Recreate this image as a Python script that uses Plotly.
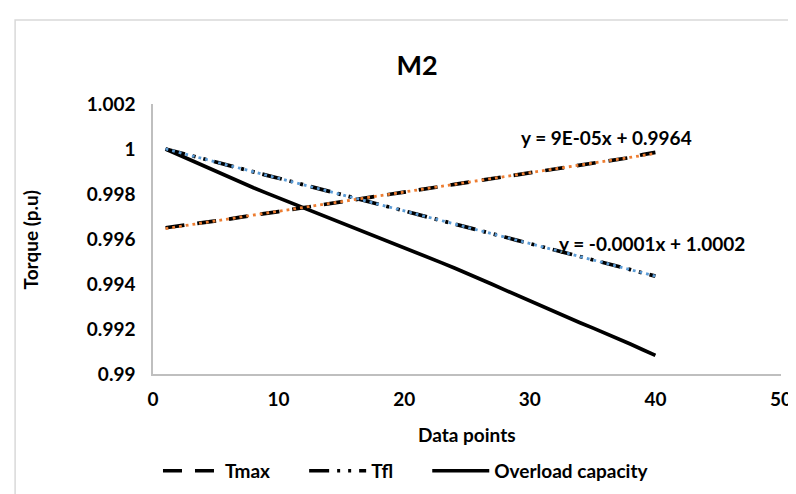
import numpy as np
import plotly.graph_objects as go

# ---- data ----
data_points = list(range(1, 41))
tmax = [0.99650, 0.99657, 0.99665, 0.99672, 0.99680, 0.99688, 0.99697, 0.99707, 0.99714, 0.99722,
        0.99731, 0.99740, 0.99749, 0.99756, 0.99765, 0.99775, 0.99784, 0.99792, 0.99800, 0.99808,
        0.99818, 0.99826, 0.99834, 0.99843, 0.99852, 0.99860, 0.99868, 0.99877, 0.99886, 0.99894,
        0.99902, 0.99911, 0.99920, 0.99928, 0.99936, 0.99945, 0.99954, 0.99962, 0.99975, 0.99985]
tfl = [1.00000, 0.99985, 0.99971, 0.99957, 0.99942, 0.99928, 0.99913, 0.99899, 0.99884, 0.99870,
       0.99856, 0.99841, 0.99826, 0.99812, 0.99797, 0.99783, 0.99768, 0.99754, 0.99739, 0.99725,
       0.99711, 0.99696, 0.99681, 0.99667, 0.99652, 0.99638, 0.99623, 0.99609, 0.99594, 0.99580,
       0.99566, 0.99551, 0.99536, 0.99522, 0.99507, 0.99493, 0.99478, 0.99464, 0.99449, 0.99435]
overload = [1.00000, 0.99975, 0.99950, 0.99925, 0.99900, 0.99876, 0.99852, 0.99828, 0.99805, 0.99783,
            0.99760, 0.99738, 0.99716, 0.99695, 0.99674, 0.99652, 0.99630, 0.99608, 0.99586, 0.99563,
            0.99540, 0.99517, 0.99494, 0.99471, 0.99448, 0.99424, 0.99399, 0.99374, 0.99349, 0.99324,
            0.99299, 0.99274, 0.99251, 0.99228, 0.99205, 0.99182, 0.99158, 0.99133, 0.99108, 0.99083]
y_tick_vals = [0.99, 0.992, 0.994, 0.996, 0.998, 1.0, 1.002]
y_tick_text = ["0.99", "0.992", "0.994", "0.996", "0.998", "1", "1.002"]
x_tick_vals = [0, 10, 20, 30, 40, 50]
eq_tmax = "y = 9E-05x + 0.9964"
eq_tfl = "y = -0.0001x + 1.0002"

FONT = "Lato, 'Open Sans', sans-serif"
TXT = "#000000"
PAD = "\u00a0" * 6
x = np.array(data_points, dtype=float)

fig = go.Figure()
fig.add_trace(go.Scatter(x=data_points, y=tmax, mode="lines", name="<b>Tmax</b>" + PAD,
                         line=dict(color="black", width=3.7, dash="19px,13px")))
fig.add_trace(go.Scatter(x=data_points, y=tfl, mode="lines", name="<b>Tfl</b>" + PAD,
                         line=dict(color="black", width=3.7, dash="20px,8px,3px,8px,3px,8px")))
fig.add_trace(go.Scatter(x=data_points, y=overload, mode="lines", name="<b>Overload capacity</b>",
                         line=dict(color="black", width=3.7)))

# linear trendlines computed from the series
for ys, col in ((tmax, "#ED7D31"), (tfl, "#5B9BD5")):
    m, b = np.polyfit(x, np.array(ys), 1)
    fig.add_trace(go.Scatter(x=[x[0], x[-1]], y=[m * x[0] + b, m * x[-1] + b], mode="lines",
                             showlegend=False, hoverinfo="skip",
                             line=dict(color=col, width=2.8, dash="2.8px,4px")))

fig.add_annotation(x=36.1, y=1.00052, text="<b>" + eq_tmax + "</b>", showarrow=False,
                   font=dict(family=FONT, size=19, color=TXT))
fig.add_annotation(x=39.7, y=0.99581, text="<b>" + eq_tfl + "</b>", showarrow=False,
                   font=dict(family=FONT, size=19, color=TXT))
# axis titles
fig.add_annotation(xref="paper", yref="paper", x=(22 - 145) / 633, y=(369 - 233) / 273,
                   text="<b>Torque (p.u)</b>", textangle=-90, showarrow=False,
                   xanchor="center", yanchor="middle", font=dict(family=FONT, size=19, color=TXT))
fig.add_annotation(xref="paper", yref="paper", x=(461 - 145) / 633, y=(369 - 430) / 273,
                   text="<b>Data points</b>", showarrow=False,
                   xanchor="center", yanchor="middle", font=dict(family=FONT, size=19, color=TXT))

fig.update_layout(
    width=796, height=494,
    margin=dict(l=145, r=18, t=96, b=125),
    paper_bgcolor="white", plot_bgcolor="white",
    font=dict(family=FONT, color=TXT),
    title=dict(text="<b>M2</b>", x=409 / 796, xanchor="center", y=1 - 58 / 494, yanchor="middle",
               font=dict(family=FONT, size=27, color=TXT)),
    xaxis=dict(range=[0, 50], tickvals=x_tick_vals, ticktext=["<b>%d</b>" % v for v in x_tick_vals],
               showgrid=False, zeroline=False,
               showline=True, linecolor="#BFBFBF", linewidth=1.5,
               ticks="outside", ticklen=7, tickcolor="rgba(0,0,0,0)",
               tickfont=dict(family=FONT, size=19, color=TXT)),
    yaxis=dict(range=[0.99, 1.002], tickvals=y_tick_vals, ticktext=["<b>%s</b>" % t for t in y_tick_text],
               showgrid=False, zeroline=False, showline=True, linecolor="#BFBFBF", linewidth=1.5,
               ticks="outside", ticklen=12, tickcolor="rgba(0,0,0,0)",
               tickfont=dict(family=FONT, size=19, color=TXT)),
    legend=dict(orientation="h", x=(400 - 145) / 633, xanchor="center", y=(369 - 467) / 273,
                yanchor="middle", font=dict(family=FONT, size=19, color=TXT), itemwidth=57,
                bgcolor="rgba(0,0,0,0)"),
    shapes=[dict(type="rect", xref="paper", yref="paper",
                 x0=(6 - 145) / 633, x1=(830 - 145) / 633,
                 y0=(369 - 520) / 273, y1=(369 - 11) / 273,
                 line=dict(color="#D9D9D9", width=1.5), fillcolor="rgba(0,0,0,0)", layer="below")],
)

fig.write_html("out.html")
